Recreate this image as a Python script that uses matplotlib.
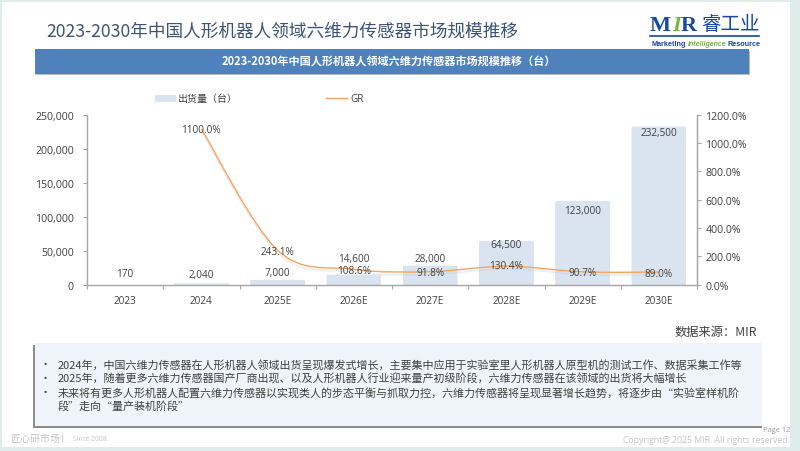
import matplotlib
matplotlib.use('Agg')
import matplotlib.pyplot as plt
import matplotlib.patheffects as pe
from matplotlib.patches import Rectangle, FancyBboxPatch, PathPatch
from matplotlib.path import Path

CJK = ['Noto Sans CJK SC', 'DejaVu Sans']
NUM = ['Open Sans', 'Noto Sans CJK SC']
plt.rcParams['font.family'] = CJK

# data
years = ['2023', '2024', '2025E', '2026E', '2027E', '2028E', '2029E', '2030E']
shipments = [170, 2040, 7000, 14600, 28000, 64500, 123000, 232500]
growth = [1100.0, 243.1, 108.6, 91.8, 130.4, 90.7, 89.0]
left_ticks = [0, 50000, 100000, 150000, 200000, 250000]
right_ticks = [0, 200, 400, 600, 800, 1000, 1200]

title = '2023-2030年中国人形机器人领域六维力传感器市场规模推移'
band_title = '2023-2030年中国人形机器人领域六维力传感器市场规模推移（台）'
notes = [
    '2024年，中国六维力传感器在人形机器人领域出货呈现爆发式增长，主要集中应用于实验室里人形机器人原型机的测试工作、数据采集工作等',
    '2025年，随着更多六维力传感器国产厂商出现、以及人形机器人行业迎来量产初级阶段，六维力传感器在该领域的出货将大幅增长',
    '未来将有更多人形机器人配置六维力传感器以实现类人的步态平衡与抓取力控，六维力传感器将呈现显著增长趋势，将逐步由“实验室样机阶',
]
notes_tail = '段”走向“量产装机阶段”'

# label placement tweaks, in pixels from the bar top / line point (up is positive)
bar_label_dy = [11, 9, 7, 16, 7, -4, -9, -6]
line_label_dy = [-1, -1, -1, -1, 1, -1, -1]

W, H = 800, 452
fig = plt.figure(figsize=(W / 100, H / 100), dpi=100, facecolor='#deedea')

# page in pixel coordinates
bg = fig.add_axes([0, 0, 1, 1])
bg.set_xlim(0, W)
bg.set_ylim(H, 0)
bg.axis('off')
bg.add_patch(Rectangle((2, 3), 788, 445, fc='white', ec='none'))

bg.text(46, 32, title, fontsize=12.7, color='#3b5375', va='center')
bg.add_patch(Rectangle((36, 52), 714, 24, fc='#9a9a9a', ec='none', alpha=0.7))
bg.add_patch(Rectangle((35, 50), 714, 25, fc='#4f81bd', ec='none'))
bg.text(389, 62, band_title, fontsize=8.0, color='white', weight='bold', ha='center', va='center')

# logo
bg.text(650, 26, 'M', fontsize=16, family='Liberation Serif', weight='bold', color='#17479e', va='center')
bg.text(672, 26, 'I', fontsize=16, family='Liberation Serif', weight='bold', style='italic', color='#7ab542', va='center')
bg.text(681, 26, 'R', fontsize=16, family='Liberation Serif', weight='bold', color='#17479e', va='center')
bg.text(701, 24, '睿工业', fontsize=14, color='#17479e', va='center')
bg.plot([650, 759], [37, 37], color='#17479e', lw=1.2)
bg.text(652, 44, 'Marketing', fontsize=5.2, family='Liberation Sans', weight='bold', color='#17479e', va='center')
bg.text(688, 44, 'Intelligence', fontsize=5.0, family='Liberation Sans', weight='bold', style='italic', color='#7ab542', va='center')
bg.text(728, 44, 'Resource', fontsize=5.2, family='Liberation Sans', weight='bold', color='#17479e', va='center')

# legend
bg.add_patch(Rectangle((155, 96), 21, 7, fc='#dae4f1', ec='none'))
bg.text(178, 99, '出货量（台）', fontsize=7.2, color='#404040', va='center')
bg.plot([326, 347], [99, 99], color='#f4a460', lw=1.0)
bg.text(350, 99, 'GR', fontsize=7.2, family=NUM, color='#404040', va='center')

# source
bg.text(757, 332, '数据来源：MIR', fontsize=8.8, color='#404040', ha='right', va='center')

# notes box
bg.add_patch(Rectangle((33, 346), 729, 83, fc='#8c8c8c', ec='none'))
bg.add_patch(Rectangle((35, 344), 727, 83, fc='#eff4fa', ec='none'))
for y, line in zip([365, 379, 393], notes):
    bg.text(45, y, '•', fontsize=8, color='#404040', va='center', ha='center')
    bg.text(58, y, line, fontsize=7.95, color='#404040', va='center')
bg.text(58, 406, notes_tail, fontsize=7.95, color='#404040', va='center')

# footer
bg.text(10, 439, '匠心研市场！', fontsize=7.2, color='#c4c4c4', va='center')
bg.text(73, 440, 'Since 2008.', fontsize=4.8, family=NUM, color='#c4c4c4', va='center')
bg.text(790, 431, 'Page 12', fontsize=5.4, family=NUM, color='#9a9a9a', ha='right', va='center')
bg.text(790, 441, 'Copyright@ 2025 MIR. All rights reserved.', fontsize=6.2, family=NUM, color='#c4c4c4', ha='right', va='center')

# chart: left 87 to 697, top 115.7 to bottom 285.7 in pixels
ax = fig.add_axes([87 / W, 1 - 285.7 / H, 610 / W, 170 / H])
ax.patch.set_alpha(0)
x = list(range(len(years)))
bars = ax.bar(x, shipments, width=0.71, color='#dae4f1', linewidth=0, zorder=2)
for b in bars:
    # soft rounded corners + shadow like the slide
    r = FancyBboxPatch((b.get_x() + 0.02, 0), b.get_width() - 0.04, b.get_height(),
                       boxstyle='round,pad=0.02,rounding_size=0.02', mutation_aspect=1000,
                       fc='#dae4f1', ec='none', zorder=2,
                       path_effects=[pe.SimplePatchShadow(offset=(0, -0.8), shadow_rgbFace='#9a9a9a', alpha=0.5), pe.Normal()])
    ax.add_patch(r)
    b.set_visible(False)
ax.set_xlim(-0.5, 7.5)
ax.set_ylim(0, 250000)
ax.set_yticks(left_ticks)
ax.set_yticklabels([f'{v:,}' for v in left_ticks], fontsize=7.6, family=NUM, color='#404040')
ax.set_xticks([i - 0.5 for i in range(9)])
ax.set_xticklabels([])
ax.tick_params(axis='x', length=3, color='#a6a6a6', direction='out')
ax.tick_params(axis='y', length=3, color='#a6a6a6', direction='out', pad=6.4)
for s in ['top']:
    ax.spines[s].set_visible(False)
for s in ['left', 'bottom', 'right']:
    ax.spines[s].set_color('#a6a6a6')
    ax.spines[s].set_linewidth(1.0)
for i, name in enumerate(years):
    ax.annotate(name, (i, 0), xytext=(0, -15.5), textcoords='offset pixels',
                fontsize=7.2, family=NUM, color='#404040', ha='center', va='center')

ax2 = ax.twinx()
ax2.patch.set_alpha(0)
ax2.set_ylim(0, 1200)
ax2.set_yticks(right_ticks)
ax2.set_yticklabels([f'{v:.1f}%' for v in right_ticks], fontsize=7.6, family=NUM, color='#404040')
ax2.tick_params(axis='y', length=3, color='#a6a6a6', direction='out', pad=3)
for s in ['top', 'left', 'bottom']:
    ax2.spines[s].set_visible(False)
ax2.spines['right'].set_color('#a6a6a6')

# smoothed growth line, bezier through the points the way Excel's smooth line does
gx = x[1:]
verts = [(gx[0], growth[0])]
codes = [Path.MOVETO]
for i in range(len(growth) - 1):
    prev_i = max(i - 1, 0)
    next_i = min(i + 2, len(growth) - 1)
    verts += [(gx[i] + (gx[i + 1] - gx[prev_i]) / 6, growth[i] + (growth[i + 1] - growth[prev_i]) / 6),
              (gx[i + 1] - (gx[next_i] - gx[i]) / 6, growth[i + 1] - (growth[next_i] - growth[i]) / 6),
              (gx[i + 1], growth[i + 1])]
    codes += [Path.CURVE4] * 3
ax2.add_patch(PathPatch(Path(verts, codes), fc='none', ec='#f4a460', lw=1.0, zorder=4,
                        path_effects=[pe.SimpleLineShadow(offset=(0, -2), shadow_color='#c0c0c0', alpha=0.3), pe.Normal()]))

for i, v in enumerate(shipments):
    ax.annotate(f'{v:,}', (i, v), xytext=(0, bar_label_dy[i]), textcoords='offset pixels',
                fontsize=7.2, family=NUM, color='#404040', ha='center', va='center', zorder=6)
for i, v in zip(gx, growth):
    j = i - 1
    ax2.annotate(f'{v:.1f}%', (i, v), xytext=(0, line_label_dy[j]), textcoords='offset pixels',
                 fontsize=7.2, family=NUM, color='#404040', ha='center', va='center', zorder=6)

fig.savefig('out.png', dpi=100, facecolor=fig.get_facecolor())
